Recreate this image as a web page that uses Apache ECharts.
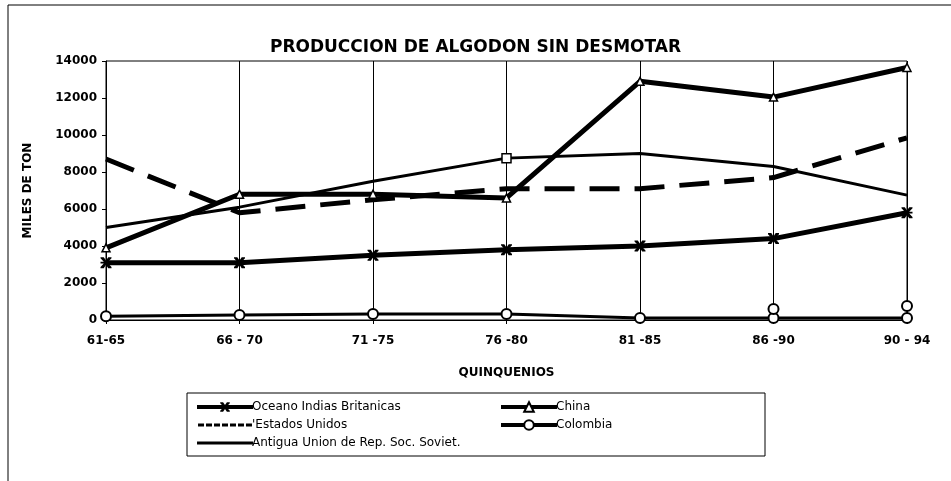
<!DOCTYPE html>
<html>
<head>
<meta charset="utf-8">
<script src="https://cdn.jsdelivr.net/npm/echarts@6/dist/echarts.min.js"></script>
<style>
  html, body { margin: 0; padding: 0; background: #fff; }
  #chart { width: 951px; height: 481px; }
</style>
</head>
<body>
<div id="chart"></div>
<script>
// Quinquenios y producción (miles de toneladas)
const categories = ['61-65', '66 - 70', '71 -75', '76 -80', '81 -85', '86 -90', '90 - 94'];
const oceanoIndias = [3100, 3100, 3500, 3800, 4000, 4400, 5800];
const china = [3900, 6800, 6800, 6600, 12900, 12050, 13650];
const estadosUnidos = [8700, 5800, 6500, 7100, 7100, 7700, 9850];
const colombia = [200, 270, 320, 320, 110, 110, 110];
const colombiaRevisado = [null, null, null, null, null, 600, 760];
const unionSovietica = [5000, 6100, 7500, 8750, 9000, 8300, 6750];
const yTicks = { min: 0, max: 14000, step: 2000 };

const FONT = 'DejaVu Sans, Liberation Sans, Arial, sans-serif';
const crossMark = 'path://M0,0L3,0L5,3L7,0L10,0L10,1L7,4.2L10,4.2L10,5.8L7,5.8L10,9L10,10L7,10L5,7L3,10L0,10L0,9L3,5.8L0,5.8L0,4.2L3,4.2L0,1Z';
// legend keys: a solid bar and a dotted bar, padded to the full key height
const solidKey = 'path://M0,0L0,0.01Z M0,4.5H56V7.5H0Z M0,12L0,12.01Z';
const dottedKey = 'path://M0,0L0,0.01Z M0,4.5H6V7.5H0Z M8,4.5H14V7.5H8Z M16,4.5H22V7.5H16Z M24,4.5H30V7.5H24Z M32,4.5H38V7.5H32Z M40,4.5H46V7.5H40Z M48,4.5H54V7.5H48Z M0,12L0,12.01Z';

const chart = echarts.init(document.getElementById('chart'), null, { renderer: 'canvas' });

const legendCommon = {
  orient: 'vertical', top: 396, itemGap: 6, itemWidth: 56, itemHeight: 12,
  lineStyle: { width: 4 },
  textStyle: { fontFamily: FONT, fontSize: 12, color: '#000', padding: [0, 0, 0, -6] }
};

const option = {
  backgroundColor: '#ffffff',
  animation: false,
  title: {
    text: 'PRODUCCION DE ALGODON SIN DESMOTAR',
    left: 'center',
    top: 34,
    textStyle: { fontFamily: FONT, fontWeight: 'bold', fontSize: 17, color: '#000' }
  },
  graphic: [
    { type: 'rect', silent: true, shape: { x: 8, y: 5, width: 1000, height: 1000 },
      style: { fill: 'none', stroke: '#000', lineWidth: 1 } },
    { type: 'rect', silent: true, shape: { x: 187, y: 393, width: 578, height: 63 },
      style: { fill: 'none', stroke: '#000', lineWidth: 1 } }
  ],
  legend: [
    Object.assign({}, legendCommon, {
      left: 190,
      data: [
        { name: 'Oceano Indias Britanicas' },
        { name: '\'Estados Unidos', icon: dottedKey },
        { name: 'Antigua Union de Rep. Soc. Soviet.', icon: solidKey }
      ]
    }),
    Object.assign({}, legendCommon, {
      left: 494,
      data: ['China', 'Colombia']
    })
  ],
  grid: { left: 106, right: 44, top: 61, bottom: 161, show: true, borderColor: '#000', borderWidth: 1, backgroundColor: 'transparent' },
  xAxis: {
    type: 'category',
    data: categories,
    boundaryGap: false,
    name: 'QUINQUENIOS',
    nameLocation: 'middle',
    nameGap: 47,
    nameTextStyle: { fontFamily: FONT, fontWeight: 'bold', fontSize: 12, color: '#000' },
    axisLine: { lineStyle: { color: '#000', width: 1 } },
    axisTick: { show: true, alignWithLabel: true, length: 4, lineStyle: { color: '#000' } },
    axisLabel: { fontFamily: FONT, fontWeight: 'bold', fontSize: 12, color: '#000', margin: 15 },
    splitLine: { show: true, lineStyle: { color: '#000', width: 1 } }
  },
  yAxis: {
    type: 'value',
    min: yTicks.min,
    max: yTicks.max,
    interval: yTicks.step,
    name: 'MILES DE TON',
    nameLocation: 'middle',
    nameRotate: 90,
    nameGap: 72,
    nameTextStyle: { fontFamily: FONT, fontWeight: 'bold', fontSize: 12, color: '#000' },
    axisLine: { show: true, lineStyle: { color: '#000', width: 1 } },
    axisTick: { show: true, length: 4, lineStyle: { color: '#000' } },
    axisLabel: { fontFamily: FONT, fontWeight: 'bold', fontSize: 12, color: '#000', margin: 9, formatter: v => String(v) },
    splitLine: { show: false }
  },
  series: [
    {
      name: 'Antigua Union de Rep. Soc. Soviet.',
      type: 'line',
      data: unionSovietica.map((v, i) => i === 3
        ? { value: v, symbol: 'rect', symbolSize: 9, itemStyle: { color: '#fff', borderColor: '#000', borderWidth: 1.5 } }
        : { value: v, symbol: 'none' }),
      symbol: 'none',
      showAllSymbol: true,
      lineStyle: { color: '#000', width: 3 },
      itemStyle: { color: '#000' },
      z: 2
    },
    {
      name: '\'Estados Unidos',
      type: 'line',
      data: estadosUnidos,
      symbol: 'none',
      lineStyle: { color: '#000', width: 5, type: [30, 15] },
      itemStyle: { color: '#000' },
      z: 3
    },
    {
      name: 'Oceano Indias Britanicas',
      type: 'line',
      data: oceanoIndias,
      symbol: crossMark,
      symbolSize: 11,
      showAllSymbol: true,
      lineStyle: { color: '#000', width: 5 },
      itemStyle: { color: '#000', borderWidth: 0 },
      z: 4
    },
    {
      name: 'China',
      type: 'line',
      data: china,
      symbol: 'triangle',
      symbolSize: 8,
      showAllSymbol: true,
      lineStyle: { color: '#000', width: 5 },
      itemStyle: { color: '#fff', borderColor: '#000', borderWidth: 1.5 },
      z: 5
    },
    {
      name: 'Colombia',
      type: 'line',
      data: colombia,
      symbol: 'circle',
      symbolSize: 10,
      showAllSymbol: true,
      lineStyle: { color: '#000', width: 3 },
      itemStyle: { color: '#fff', borderColor: '#000', borderWidth: 2 },
      z: 6
    },
    {
      name: 'Colombia revisado',
      type: 'line',
      data: colombiaRevisado,
      symbol: 'circle',
      symbolSize: 10,
      showAllSymbol: true,
      lineStyle: { width: 0 },
      itemStyle: { color: '#fff', borderColor: '#000', borderWidth: 2 },
      z: 6
    }
  ]
};

chart.setOption(option);
</script>
</body>
</html>
